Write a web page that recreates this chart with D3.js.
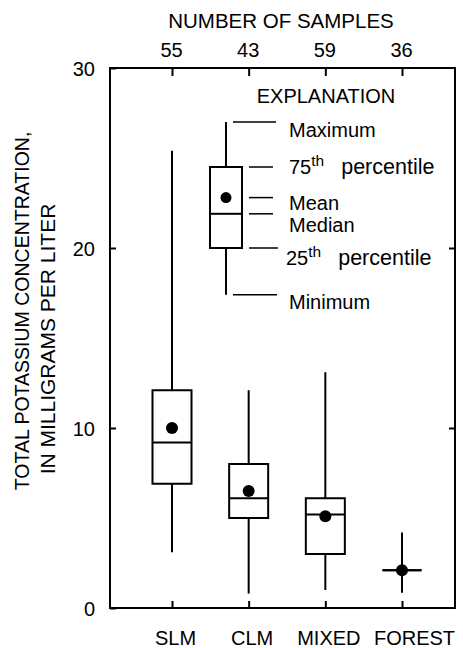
<!DOCTYPE html>
<html>
<head>
<meta charset="utf-8">
<script src="https://cdn.jsdelivr.net/npm/d3@7"></script>
<style>
  html, body { margin: 0; padding: 0; background: #fff; }
  svg { display: block; }
  text { font-family: "Liberation Sans", Arial, Helvetica, sans-serif; fill: #000; }
</style>
</head>
<body>
<svg id="chart" width="463" height="648"></svg>
<script>
// Land-use groups and their sample counts
const categories = ["SLM", "CLM", "MIXED", "FOREST"];
const sampleCounts = [55, 43, 59, 36];

// Box-plot statistics, total potassium (mg/L)
const minimum = [3.1, 0.8, 1.0, 0.85];
const q1 = [6.9, 5.0, 3.0, 2.1];
const median = [9.2, 6.1, 5.2, 2.1];
const q3 = [12.1, 8.0, 6.1, 2.1];
const maximum = [25.4, 12.1, 13.1, 4.2];
const mean = [10.0, 6.5, 5.1, 2.1];

// Y-axis tick values
const yTicks = [0, 10, 20, 30];

// Explanation (key) box statistics, drawn on the same y scale
const keyStats = { min: 17.4, q1: 20.0, median: 21.9, mean: 22.8, q3: 24.5, max: 27.0 };
const keyLabels = [
  { key: "max", text: "Maximum" },
  { key: "q3", text: "75", sup: "th", rest: "percentile" },
  { key: "mean", text: "Mean" },
  { key: "median", text: "Median" },
  { key: "q1", text: "25", sup: "th", rest: "percentile" },
  { key: "min", text: "Minimum" }
];

const svg = d3.select("#chart");
const frame = { left: 110, right: 455, top: 68, bottom: 608 };
const FS = 20;

const y = d3.scaleLinear().domain([0, 30]).range([frame.bottom, frame.top]);
const x = d3.scalePoint().domain(categories).range([172, 402]);

const stats = categories.map((c, i) => ({
  cat: c, n: sampleCounts[i], min: minimum[i], q1: q1[i], median: median[i],
  q3: q3[i], max: maximum[i], mean: mean[i]
}));

// Axes (ticks point inward)
const leftAxis = svg.append("g").attr("transform", `translate(${frame.left},0)`)
  .call(d3.axisLeft(y).tickValues(yTicks).tickSizeInner(-6).tickSizeOuter(0).tickPadding(15));
leftAxis.selectAll("text").style("font-size", FS + "px").attr("dy", "0.38em");

svg.append("g").attr("transform", `translate(${frame.right},0)`)
  .call(d3.axisRight(y).tickValues([10, 20]).tickSizeInner(-6).tickSizeOuter(0).tickFormat(""));

const bottomAxis = svg.append("g").attr("transform", `translate(0,${frame.bottom})`)
  .call(d3.axisBottom(x).tickSizeInner(-7).tickSizeOuter(0));
bottomAxis.selectAll("text").style("font-size", FS + "px")
  .attr("y", 37).attr("dy", 0)
  .attr("dx", d => d === "FOREST" ? 12 : 3);

const topAxis = svg.append("g").attr("transform", `translate(0,${frame.top})`)
  .call(d3.axisTop(x).tickSizeInner(-8).tickSizeOuter(0).tickPadding(11)
    .tickFormat((d, i) => sampleCounts[i]));
topAxis.selectAll("text").style("font-size", FS + "px").attr("dx", -1);

svg.selectAll(".domain").remove();
svg.selectAll(".tick line").attr("stroke", "#000").attr("stroke-width", 2);

// Plot frame
svg.append("rect")
  .attr("x", frame.left).attr("y", frame.top)
  .attr("width", frame.right - frame.left).attr("height", frame.bottom - frame.top)
  .attr("fill", "none").attr("stroke", "#000").attr("stroke-width", 2);

// Titles
svg.append("text").attr("x", 281).attr("y", 28).attr("text-anchor", "middle")
  .style("font-size", "20.5px").text("NUMBER OF SAMPLES");

svg.append("text").attr("transform", "translate(29,311) rotate(-90)")
  .attr("text-anchor", "middle").style("font-size", "19.5px")
  .text("TOTAL POTASSIUM CONCENTRATION,");
svg.append("text").attr("transform", "translate(55,339) rotate(-90)")
  .attr("text-anchor", "middle").style("font-size", "21px")
  .text("IN MILLIGRAMS PER LITER");

// Draws one box plot centred at cx
function drawBox(g, s, cx, halfW, r) {
  g.append("line").attr("x1", cx).attr("x2", cx)
    .attr("y1", y(s.min)).attr("y2", y(s.max))
    .attr("stroke", "#000").attr("stroke-width", 2);
  const yt = y(s.q3), yb = y(s.q1);
  g.append("path")
    .attr("d", `M${cx - halfW},${yt}H${cx + halfW}V${yb}H${cx - halfW}Z`)
    .attr("fill", yb - yt > 0.5 ? "#fff" : "none")
    .attr("stroke", "#000").attr("stroke-width", 2);
  g.append("line").attr("x1", cx - halfW).attr("x2", cx + halfW)
    .attr("y1", y(s.median)).attr("y2", y(s.median))
    .attr("stroke", "#000").attr("stroke-width", 2);
  g.append("circle").attr("cx", cx).attr("cy", y(s.mean)).attr("r", r).attr("fill", "#000");
}

const boxes = svg.append("g");
stats.forEach(s => drawBox(boxes, s, x(s.cat), 19.5, 6));

// Explanation key
const key = svg.append("g");
key.append("text").attr("x", 326).attr("y", 103).attr("text-anchor", "middle")
  .style("font-size", FS + "px").text("EXPLANATION");

const keyX = 226;
drawBox(key, keyStats, keyX, 16, 5.5);

const leader = {
  max: [233, 276], q3: [249, 273], mean: [249, 273],
  median: [249, 273], q1: [249, 278], min: [233, 277]
};
const labelOffset = { max: 15, q3: 7, mean: 12, median: 18, q1: 17, min: 14 };

keyLabels.forEach(l => {
  const yy = y(keyStats[l.key]);
  key.append("line").attr("x1", leader[l.key][0]).attr("x2", leader[l.key][1])
    .attr("y1", yy).attr("y2", yy).attr("stroke", "#000").attr("stroke-width", 1.5);
  const t = key.append("text")
    .attr("x", l.key === "q1" ? 286 : 289)
    .attr("y", yy + labelOffset[l.key])
    .style("font-size", FS + "px");
  t.append("tspan").text(l.text);
  if (l.sup) {
    t.append("tspan").attr("dy", -8).style("font-size", "15.5px").text(l.sup);
    t.append("tspan").attr("dy", 8).attr("dx", 17).style("font-size", "21.5px").text(l.rest);
  }
});
</script>
</body>
</html>
